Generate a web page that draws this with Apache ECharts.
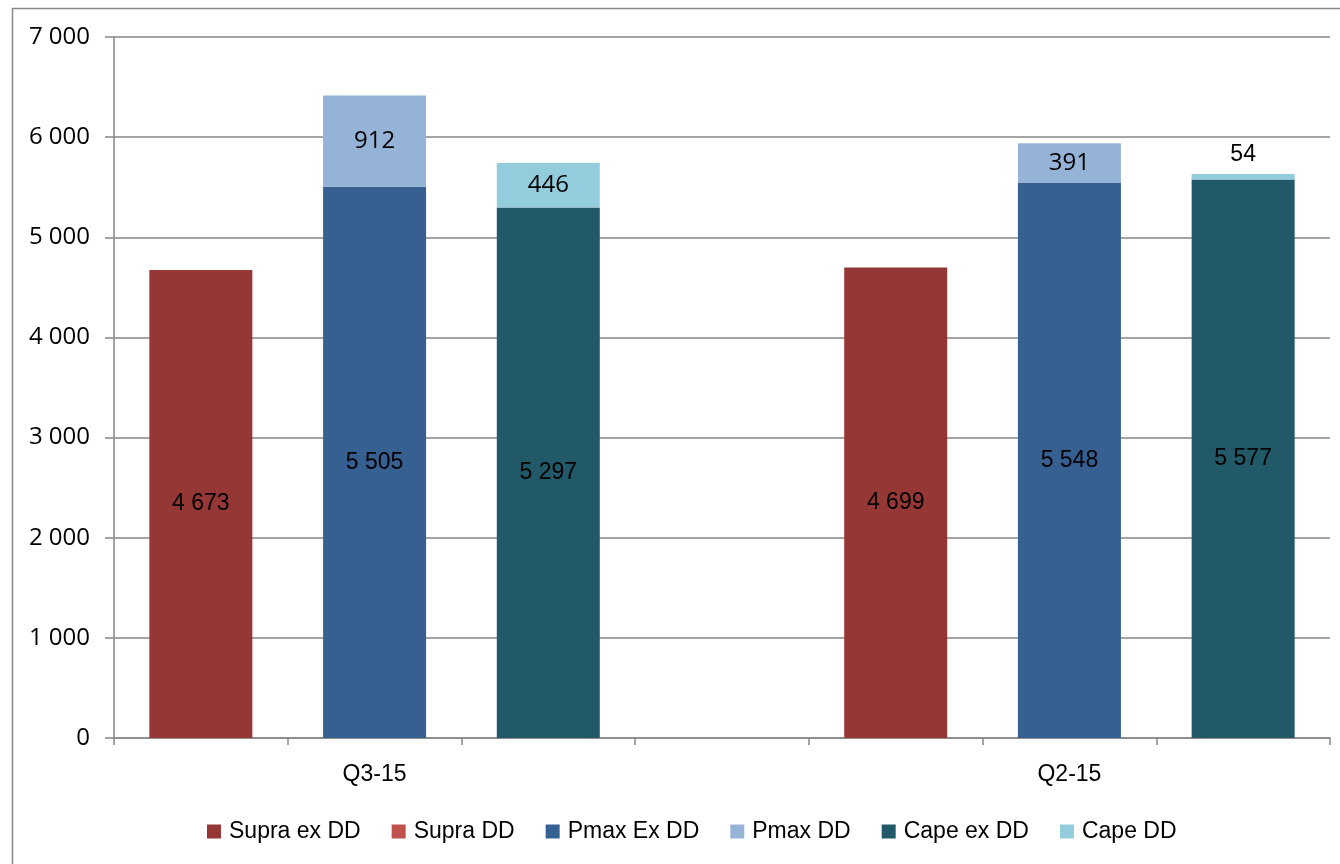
<!DOCTYPE html>
<html>
<head>
<meta charset="utf-8">
<script src="https://cdn.jsdelivr.net/npm/echarts@6/dist/echarts.min.js"></script>
<style>html,body{margin:0;padding:0;background:#fff}#c{width:1340px;height:864px}</style>
</head>
<body>
<div id="c"></div>
<script>
const periods = ['Q3-15', 'Q2-15'];
const seriesNames = ['Supra ex DD', 'Supra DD', 'Pmax Ex DD', 'Pmax DD', 'Cape ex DD', 'Cape DD'];
const supraExDD = [4673, 4699];
const supraDD = [null, null];
const pmaxExDD = [5505, 5548];
const pmaxDD = [912, 391];
const capeExDD = [5297, 5577];
const capeDD = [446, 54];
const yMin = 0, yMax = 7000, yStep = 1000;

const NARROW = "'Liberation Sans Narrow', 'Arial Narrow', 'Liberation Sans', sans-serif";
const HUMAN = "'Open Sans', sans-serif";
const colors = ['#953735', '#C0504D', '#376092', '#95B3D7', '#215968', '#93CDDD'];

const SLOTS = periods.length * 4 - 1;
function slots(vals, offset) {
  const arr = new Array(SLOTS).fill(null);
  vals.forEach((v, p) => { arr[p * 4 + offset] = v; });
  return arr;
}
const xCats = [];
for (let i = 0; i < SLOTS; i++) xCats.push(String(i));
const xLabels = {};
periods.forEach((p, i) => { xLabels[i * 4 + 1] = p; });

function fmt(v) { return String(v).replace(/\B(?=(\d{3})+(?!\d))/g, ' '); }

const seriesData = [
  [supraExDD, 0, NARROW], [supraDD, 0, NARROW],
  [pmaxExDD, 1, NARROW], [pmaxDD, 1, HUMAN],
  [capeExDD, 2, NARROW], [capeDD, 2, HUMAN]
];

const series = seriesData.map((d, i) => {
  const data = slots(d[0], d[1]).map(v => {
    if (v === null) return null;
    if (v < 100) return { value: v, label: { position: 'top', distance: 8, fontFamily: NARROW, fontSize: 23 } };
    return v;
  });
  return {
    name: seriesNames[i],
    type: 'bar',
    stack: 'all',
    barWidth: 103,
    data: data,
    itemStyle: { color: colors[i] },
    label: {
      show: true,
      position: 'inside',
      color: '#000',
      fontFamily: d[2],
      fontSize: d[2] === HUMAN ? 24 : 23,
      formatter: p => fmt(p.value)
    },
    emphasis: { disabled: true }
  };
});

const chart = echarts.init(document.getElementById('c'), null, { renderer: 'canvas' });
chart.setOption({
  animation: false,
  backgroundColor: '#fff',
  graphic: [{
    type: 'rect', left: 10, top: 6,
    shape: { width: 1400, height: 900 },
    style: { fill: 'none', stroke: '#888', lineWidth: 1.5 },
    silent: true
  }],
  grid: { left: 114, right: 10, top: 37, bottom: 126, containLabel: false },
  legend: {
    bottom: 16,
    left: 202,
    itemWidth: 14, itemHeight: 14, itemGap: 31,
    icon: 'rect',
    data: seriesNames,
    textStyle: { fontFamily: NARROW, fontSize: 23, color: '#000', padding: [0, 0, 0, 3] }
  },
  xAxis: {
    type: 'category',
    data: xCats,
    axisLine: { lineStyle: { color: '#868686', width: 1.5 } },
    axisTick: { show: true, interval: 0, length: 7, lineStyle: { color: '#868686', width: 1.5 } },
    axisLabel: {
      interval: 0, margin: 25, color: '#000',
      fontFamily: NARROW, fontSize: 23,
      formatter: (v, idx) => xLabels[idx] || ''
    }
  },
  yAxis: {
    type: 'value',
    min: yMin, max: yMax, interval: yStep,
    axisLine: { show: true, lineStyle: { color: '#868686', width: 1.5 } },
    axisTick: { show: true, inside: false, length: 9, lineStyle: { color: '#868686', width: 1.5 } },
    splitLine: { show: true, lineStyle: { color: '#868686', width: 1.5 } },
    axisLabel: { margin: 24, color: '#000', fontFamily: HUMAN, fontSize: 24, formatter: v => fmt(v) }
  },
  series: series
});
</script>
</body>
</html>
